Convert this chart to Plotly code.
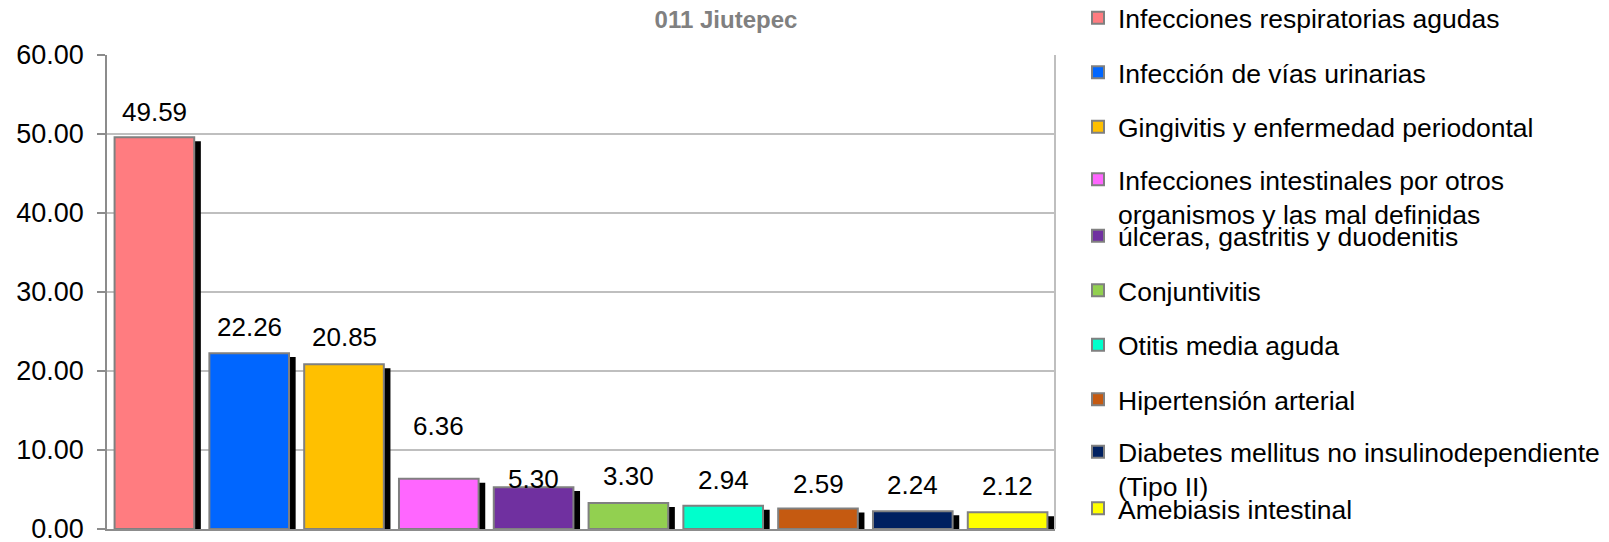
import plotly.graph_objects as go

# ---- data ----
title_text = "011 Jiutepec"
categories = [
    "Infecciones respiratorias agudas",
    "Infección de vías urinarias",
    "Gingivitis y enfermedad periodontal",
    "Infecciones intestinales por otros<br>organismos y las mal definidas",
    "úlceras, gastritis y duodenitis",
    "Conjuntivitis",
    "Otitis media aguda",
    "Hipertensión arterial",
    "Diabetes mellitus no insulinodependiente<br>(Tipo II)",
    "Amebiasis intestinal",
]
values = [49.59, 22.26, 20.85, 6.36, 5.30, 3.30, 2.94, 2.59, 2.24, 2.12]
y_ticks = [0, 10, 20, 30, 40, 50, 60]
y_tick_labels = [f"{t:.2f}" for t in y_ticks]

# ---- style ----
colors = ["#FF7C80", "#0066FF", "#FFC000", "#FF66FF", "#7030A0",
          "#92D050", "#00FFCC", "#C55A11", "#002060", "#FFFF00"]
label_shift_px = [25, 26, 27, 53, 8, 27, 26, 25, 26, 26]
FONT = "Arial, 'Liberation Sans', sans-serif"
FS = 26
LEG_FS = 26.5
W, H = 1609, 542
PAGE = 8  # default body margin of the html page
ML, MR, MT, MB = 107 - PAGE, W - 1055 + PAGE, 55 - PAGE, H - 529 + PAGE
PLOT_W = W - ML - MR
PLOT_H = H - MT - MB
bar_w = 0.84
shadow_dx = 0.07
shadow_dy = 0.5

fig = go.Figure()

# shadows
for i, v in enumerate(values):
    fig.add_trace(go.Bar(
        x=[i], y=[v - shadow_dy], width=bar_w, offset=-bar_w / 2 + shadow_dx,
        marker=dict(color="#000000", line=dict(width=0)),
        showlegend=False, hoverinfo="skip",
    ))

# bars
for i, (cat, v, c) in enumerate(zip(categories, values, colors)):
    fig.add_trace(go.Bar(
        x=[i], y=[v], width=bar_w, offset=-bar_w / 2, name=cat,
        marker=dict(color=c, line=dict(color="#808080", width=2)),
        legend="legend" if i == 0 else f"legend{i+1}",
    ))

# data labels
for i, v in enumerate(values):
    fig.add_annotation(
        x=i, y=v, text=f"{v:.2f}", showarrow=False, xref="x", yref="y",
        yanchor="middle", yshift=label_shift_px[i],
        font=dict(family=FONT, size=FS, color="#000000"),
    )

legend_layout = {}
step = 54.5
first_center = 18 - 9
for i, cat in enumerate(categories):
    center = first_center + i * step
    if "<br>" in cat:
        center -= 2
    top = center - 23
    key = "legend" if i == 0 else f"legend{i+1}"
    legend_layout[key] = dict(
        xref="paper", yref="paper",
        x=(1070 - ML) / PLOT_W, xanchor="left",
        y=(H - MB - top) / PLOT_H, yanchor="top",
        valign="top", bgcolor="rgba(0,0,0,0)", borderwidth=0,
        font=dict(family=FONT, size=LEG_FS, color="#000000"),
        itemclick=False, itemdoubleclick=False,
    )

fig.update_layout(
    width=W, height=H,
    margin=dict(l=ML, r=MR, t=MT, b=MB, autoexpand=False),
    paper_bgcolor="white", plot_bgcolor="white",
    barmode="overlay",
    title=dict(text=f"<b>{title_text}</b>", x=718 / W, xanchor="center",
               y=1 - 12 / H, yanchor="middle",
               font=dict(family=FONT, size=24, color="#808080")),
    xaxis=dict(range=[-0.5, len(values) - 0.5], showticklabels=False,
               showgrid=False, zeroline=False, showline=True,
               linecolor="#8C8C8C", linewidth=1.5, ticks=""),
    yaxis=dict(range=[0, 60], tickvals=y_ticks, ticktext=y_tick_labels,
               showgrid=True, gridcolor="#BFBFBF", gridwidth=1.5,
               zeroline=False, showline=True, linecolor="#8C8C8C", linewidth=1.5,
               ticks="outside", ticklen=8, tickcolor="#8C8C8C", tickwidth=1.5,
               ticklabelstandoff=8,
               tickfont=dict(family=FONT, size=27, color="#000000")),
    shapes=[dict(type="line", xref="paper", yref="paper", x0=1, x1=1, y0=0, y1=1,
                 line=dict(color="#BFBFBF", width=2))],
    **legend_layout,
)

fig.write_html("out.html", config={"displayModeBar": False})
